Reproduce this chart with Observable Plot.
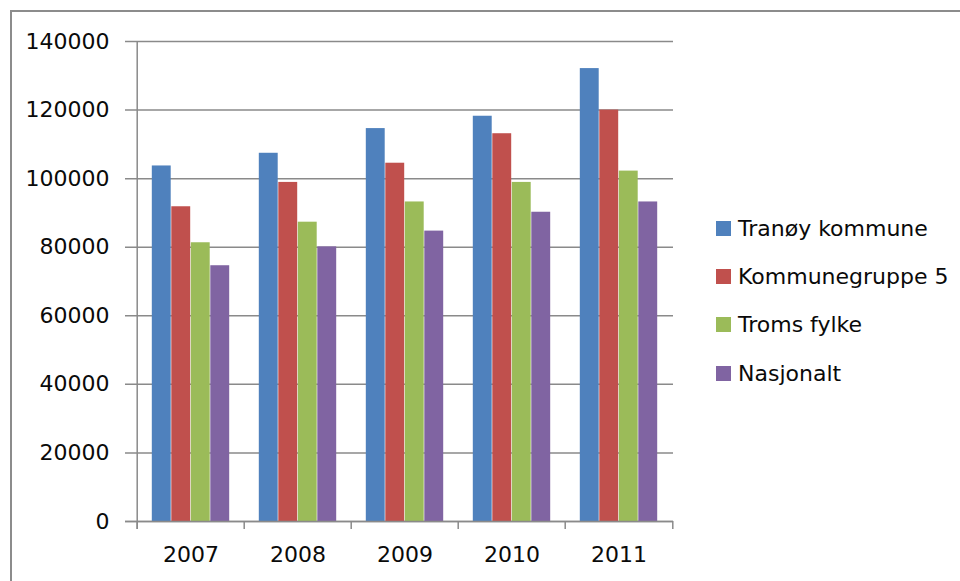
<!DOCTYPE html>
<html>
<head>
<meta charset="utf-8">
<script src="https://cdn.jsdelivr.net/npm/d3@7"></script>
<script src="https://cdn.jsdelivr.net/npm/@observablehq/plot@0.6"></script>
<style>
  html, body { margin: 0; padding: 0; background: #fff; overflow: hidden; }
  body { width: 960px; height: 581px; position: relative; font-family: "DejaVu Sans", sans-serif; }
  #border { position: absolute; left: 10px; top: 10px; width: 1000px; height: 700px;
            border-left: 2px solid #8c8c8c; border-top: 2px solid #8c8c8c; }
  #chart { position: absolute; left: 0; top: 0; }
  #legend { position: absolute; left: 716px; top: 204px; }
  .item { display: flex; align-items: center; height: 48.3px; font-size: 22px; color: #0a0a0a; white-space: nowrap; }
  .sw { width: 15px; height: 15px; margin-right: 7px; }
</style>
</head>
<body>
<div id="border"></div>
<div id="chart"></div>
<div id="legend"></div>
<script>
const years = ["2007", "2008", "2009", "2010", "2011"];
const seriesNames = ["Tranøy kommune", "Kommunegruppe 5", "Troms fylke", "Nasjonalt"];
const tranoy = [103700, 107400, 114600, 118200, 132100];
const kommunegruppe5 = [91800, 98900, 104500, 113100, 120000];
const troms = [81300, 87300, 93200, 98900, 102200];
const nasjonalt = [74600, 80100, 84700, 90200, 93200];
const colors = ["#4F81BD", "#C0504D", "#9BBB59", "#8064A2"];
const yTicks = [0, 20000, 40000, 60000, 80000, 100000, 120000, 140000];

const seriesValues = [tranoy, kommunegruppe5, troms, nasjonalt];
const data = [];
seriesNames.forEach((s, i) => years.forEach((y, j) => data.push({year: y, series: s, value: seriesValues[i][j]})));

const W = 960, H = 581;
const mL = 135, mR = 287, mT = 41, mB = 60;
const band = (W - mL - mR) / years.length;
const barW = 19.5, outer = (band - 4 * barW) / 2;
const tickLen = 8 / ((H - mT - mB) / 140000);

const barMarks = seriesNames.map((s, i) => Plot.barY(data.filter(d => d.series === s), {
  x: "year", y: "value", fill: colors[i],
  insetLeft: outer + i * barW,
  insetRight: band - outer - (i + 1) * barW
}));

const chart = Plot.plot({
  width: W, height: H,
  marginLeft: mL, marginRight: mR, marginTop: mT, marginBottom: mB,
  style: {fontFamily: "DejaVu Sans, sans-serif", fontSize: "22px", color: "#0a0a0a", background: "transparent", overflow: "visible"},
  x: {domain: years, padding: 0},
  y: {domain: [0, 140000]},
  marks: [
    Plot.ruleY(yTicks, {stroke: "#8a8a8a", strokeWidth: 1.5, insetLeft: -10}),
    ...barMarks,
    Plot.ruleX([years[0]], {x: d => d, y1: -tickLen, y2: 140000, dx: -band / 2, stroke: "#8a8a8a", strokeWidth: 1.5}),
    Plot.ruleX(years, {x: d => d, y1: -tickLen, y2: 0, dx: -band / 2, stroke: "#8a8a8a", strokeWidth: 1.5}),
    Plot.ruleX([years[years.length - 1]], {x: d => d, y1: -tickLen, y2: 0, dx: band / 2, stroke: "#8a8a8a", strokeWidth: 1.5}),
    Plot.ruleY([0], {stroke: "#8a8a8a", strokeWidth: 1.5, insetLeft: -10}),
    Plot.axisY({ticks: yTicks, tickSize: 0, tickPadding: 26, tickFormat: d => String(d), label: null}),
    Plot.axisX({tickSize: 0, tickPadding: 25, label: null})
  ]
});
document.getElementById("chart").appendChild(chart);

const legend = document.getElementById("legend");
seriesNames.forEach((s, i) => {
  const row = document.createElement("div");
  row.className = "item";
  const sw = document.createElement("div");
  sw.className = "sw";
  sw.style.background = colors[i];
  row.appendChild(sw);
  row.appendChild(document.createTextNode(s));
  legend.appendChild(row);
});
</script>
</body>
</html>
